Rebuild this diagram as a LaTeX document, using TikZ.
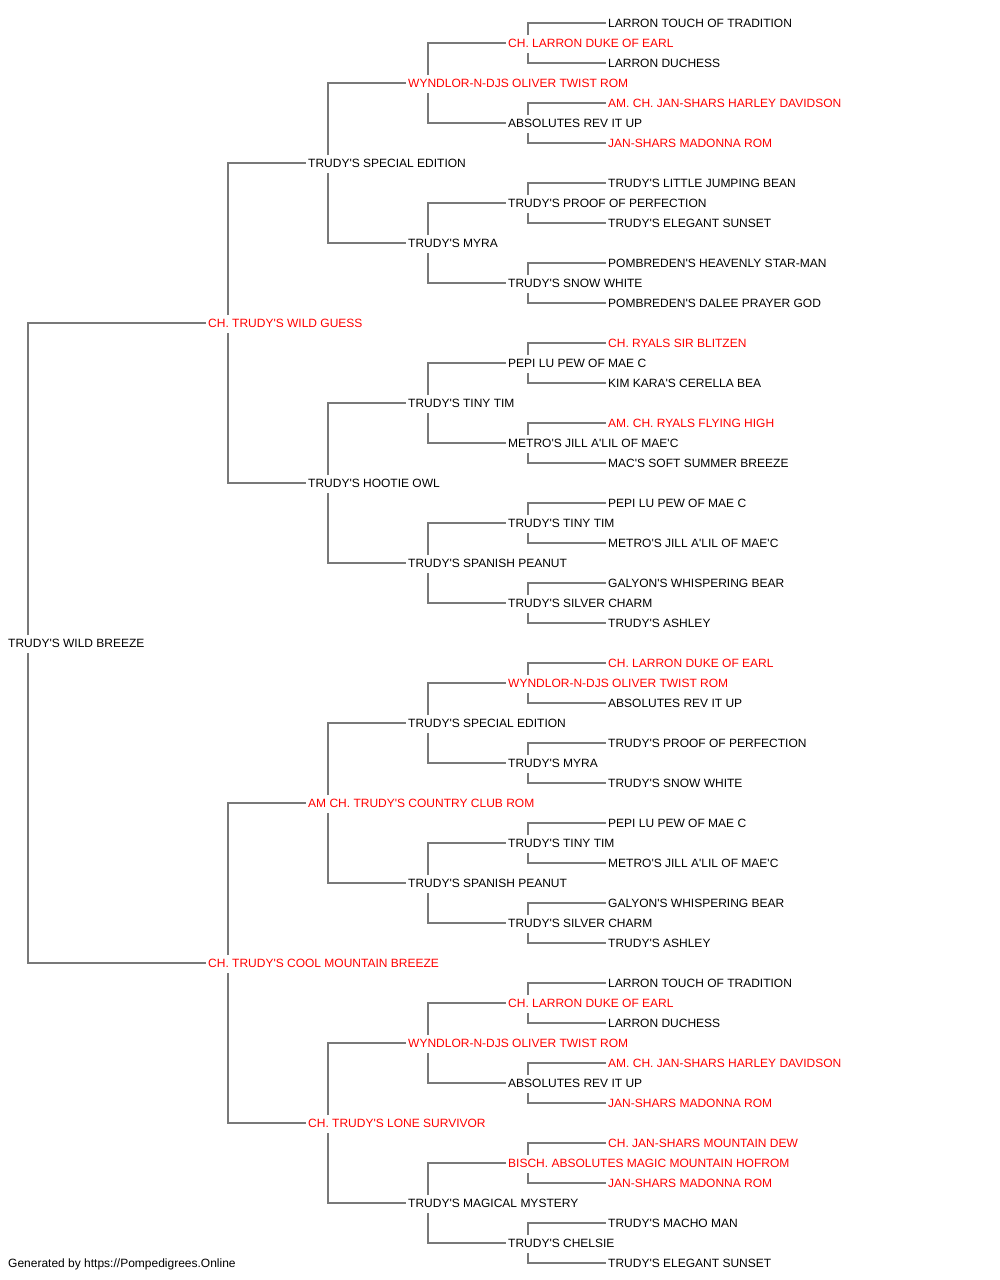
\documentclass[tikz,border=0pt]{standalone}
\usepackage{fontspec}
\setmainfont{Liberation Sans}[Ligatures=TeXOff]
\definecolor{lineg}{RGB}{120,120,120}
\definecolor{rd}{RGB}{255,0,0}
\newcommand\pn[4]{\node[#3] (n#1) at ({ifthenelse(#2==0,6,106+100*#2)},{-23-20*#1}) {#4};}
\newcommand\pe[3]{\draw[conn] ([xshift=22pt,yshift=8pt]n#1.west) |- (n#2.west);
  \draw[conn] ([xshift=22pt,yshift=-10pt]n#1.west) |- (n#3.west);}
\begin{document}
\begin{tikzpicture}[x=1pt,y=1pt,
  nm/.style={anchor=west,inner xsep=2pt,inner ysep=0pt,text height=8.6pt,text depth=0pt,font=\fontsize{12}{14}\selectfont},
  rn/.style={nm,text=rd},
  conn/.style={draw=lineg,line width=1.2pt}]
\useasboundingbox (0,0) rectangle (1000,-1280);
% generation 0
\pn{31}{0}{nm}{TRUDY'S WILD BREEZE}
% generation 1
\pn{15}{1}{rn}{CH. TRUDY'S WILD GUESS}
\pn{47}{1}{rn}{CH. TRUDY'S COOL MOUNTAIN BREEZE}
% generation 2
\pn{7}{2}{nm}{TRUDY'S SPECIAL EDITION}
\pn{23}{2}{nm}{TRUDY'S HOOTIE OWL}
\pn{39}{2}{rn}{AM CH. TRUDY'S COUNTRY CLUB ROM}
\pn{55}{2}{rn}{CH. TRUDY'S LONE SURVIVOR}
% generation 3
\pn{3}{3}{rn}{WYNDLOR-N-DJS OLIVER TWIST ROM}
\pn{11}{3}{nm}{TRUDY'S MYRA}
\pn{19}{3}{nm}{TRUDY'S TINY TIM}
\pn{27}{3}{nm}{TRUDY'S SPANISH PEANUT}
\pn{35}{3}{nm}{TRUDY'S SPECIAL EDITION}
\pn{43}{3}{nm}{TRUDY'S SPANISH PEANUT}
\pn{51}{3}{rn}{WYNDLOR-N-DJS OLIVER TWIST ROM}
\pn{59}{3}{nm}{TRUDY'S MAGICAL MYSTERY}
% generation 4
\pn{1}{4}{rn}{CH. LARRON DUKE OF EARL}
\pn{5}{4}{nm}{ABSOLUTES REV IT UP}
\pn{9}{4}{nm}{TRUDY'S PROOF OF PERFECTION}
\pn{13}{4}{nm}{TRUDY'S SNOW WHITE}
\pn{17}{4}{nm}{PEPI LU PEW OF MAE C}
\pn{21}{4}{nm}{METRO'S JILL A'LIL OF MAE'C}
\pn{25}{4}{nm}{TRUDY'S TINY TIM}
\pn{29}{4}{nm}{TRUDY'S SILVER CHARM}
\pn{33}{4}{rn}{WYNDLOR-N-DJS OLIVER TWIST ROM}
\pn{37}{4}{nm}{TRUDY'S MYRA}
\pn{41}{4}{nm}{TRUDY'S TINY TIM}
\pn{45}{4}{nm}{TRUDY'S SILVER CHARM}
\pn{49}{4}{rn}{CH. LARRON DUKE OF EARL}
\pn{53}{4}{nm}{ABSOLUTES REV IT UP}
\pn{57}{4}{rn}{BISCH. ABSOLUTES MAGIC MOUNTAIN HOFROM}
\pn{61}{4}{nm}{TRUDY'S CHELSIE}
% generation 5
\pn{0}{5}{nm}{LARRON TOUCH OF TRADITION}
\pn{2}{5}{nm}{LARRON DUCHESS}
\pn{4}{5}{rn}{AM. CH. JAN-SHARS HARLEY DAVIDSON}
\pn{6}{5}{rn}{JAN-SHARS MADONNA ROM}
\pn{8}{5}{nm}{TRUDY'S LITTLE JUMPING BEAN}
\pn{10}{5}{nm}{TRUDY'S ELEGANT SUNSET}
\pn{12}{5}{nm}{POMBREDEN'S HEAVENLY STAR-MAN}
\pn{14}{5}{nm}{POMBREDEN'S DALEE PRAYER GOD}
\pn{16}{5}{rn}{CH. RYALS SIR BLITZEN}
\pn{18}{5}{nm}{KIM KARA'S CERELLA BEA}
\pn{20}{5}{rn}{AM. CH. RYALS FLYING HIGH}
\pn{22}{5}{nm}{MAC'S SOFT SUMMER BREEZE}
\pn{24}{5}{nm}{PEPI LU PEW OF MAE C}
\pn{26}{5}{nm}{METRO'S JILL A'LIL OF MAE'C}
\pn{28}{5}{nm}{GALYON'S WHISPERING BEAR}
\pn{30}{5}{nm}{TRUDY'S ASHLEY}
\pn{32}{5}{rn}{CH. LARRON DUKE OF EARL}
\pn{34}{5}{nm}{ABSOLUTES REV IT UP}
\pn{36}{5}{nm}{TRUDY'S PROOF OF PERFECTION}
\pn{38}{5}{nm}{TRUDY'S SNOW WHITE}
\pn{40}{5}{nm}{PEPI LU PEW OF MAE C}
\pn{42}{5}{nm}{METRO'S JILL A'LIL OF MAE'C}
\pn{44}{5}{nm}{GALYON'S WHISPERING BEAR}
\pn{46}{5}{nm}{TRUDY'S ASHLEY}
\pn{48}{5}{nm}{LARRON TOUCH OF TRADITION}
\pn{50}{5}{nm}{LARRON DUCHESS}
\pn{52}{5}{rn}{AM. CH. JAN-SHARS HARLEY DAVIDSON}
\pn{54}{5}{rn}{JAN-SHARS MADONNA ROM}
\pn{56}{5}{rn}{CH. JAN-SHARS MOUNTAIN DEW}
\pn{58}{5}{rn}{JAN-SHARS MADONNA ROM}
\pn{60}{5}{nm}{TRUDY'S MACHO MAN}
\pn{62}{5}{nm}{TRUDY'S ELEGANT SUNSET}
% footer
\node[nm] (foot) at (6,-1263) {Generated by https://Pompedigrees.Online};
% connectors
\pe{31}{15}{47}
\pe{15}{7}{23}
\pe{47}{39}{55}
\pe{7}{3}{11}
\pe{23}{19}{27}
\pe{39}{35}{43}
\pe{55}{51}{59}
\foreach \k [evaluate=\k as \a using int(\k-2), evaluate=\k as \b using int(\k+2)] in {3,11,...,59}{\pe{\k}{\a}{\b}}
\foreach \k [evaluate=\k as \a using int(\k-1), evaluate=\k as \b using int(\k+1)] in {1,5,...,61}{\pe{\k}{\a}{\b}}
\end{tikzpicture}
\end{document}
